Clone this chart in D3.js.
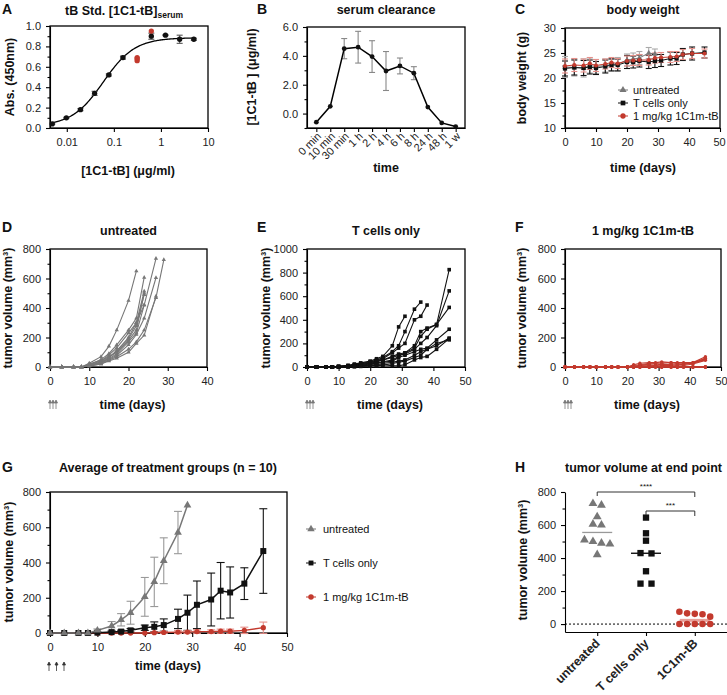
<!DOCTYPE html>
<html>
<head>
<meta charset="utf-8">
<script src="https://cdn.jsdelivr.net/npm/d3@7"></script>
<style>
body { margin: 0; background: #fff; }
text { font-family: "Liberation Sans", Arial, sans-serif; fill: #111; }
.tick text { font-size: 11px; fill: #222; }
.axis path, .axis line { stroke: #000; stroke-width: 1.1; }
.ttl { font-size: 12.5px; font-weight: bold; }
.lab { font-size: 12.5px; font-weight: bold; }
.let { font-size: 14px; font-weight: bold; }
.leg { font-size: 11px; }
</style>
</head>
<body>
<script>
//
// Data
//

// A - ELISA standard curve
var stdConc = [0.0049, 0.0098, 0.0195, 0.039, 0.078, 0.156, 0.625, 1.25, 2.5, 5];
var stdAbs  = [0.04, 0.10, 0.18, 0.34, 0.52, 0.69, 0.90, 0.91, 0.87, 0.87];
var stdErr  = [0.005, 0.005, 0.01, 0.02, 0.01, 0.015, 0.03, 0.005, 0.04, 0.01];
var serumConc = [0.3125, 0.3125, 0.3125, 0.625];
var serumAbs  = [0.66, 0.68, 0.69, 0.95];
var fitBottom = 0.02, fitTop = 0.885, fitEC50 = 0.06, fitHill = 1.3;

// B - serum clearance
var clrTimes = ["0 min", "10 min", "30 min", "1 h", "2 h", "4 h", "6 h", "8 h", "24 h", "48 h", "1 w"];
var clrMean  = [-0.6, 0.5, 4.5, 4.6, 3.95, 2.95, 3.3, 2.8, 0.45, -0.65, -0.9];
var clrErr   = [0, 0, 0.7, 1.1, 1.1, 1.35, 0.55, 0.45, 0, 0, 0];

// days of measurement (C - G)
var days = [0, 3, 6, 8, 10, 13, 15, 17, 20, 22, 24, 27, 29, 31, 34, 36, 38, 41, 45];

// C - body weight
var bwUntreated    = [22.2, 22.1, 22.0, 22.5, 22.3, 22.5, 22.7, 22.8, 23.6, 23.8, 24.0, 25.0, 24.8];
var bwUntreatedErr = [2.1, 1.7, 1.8, 1.5, 1.4, 1.3, 1.2, 1.3, 1.2, 1.2, 1.3, 1.1, 1.0];
var bwTcells    = [21.9, 22.1, 22.0, 22.2, 22.0, 22.3, 22.6, 22.6, 23.2, 23.2, 23.4, 23.2, 23.4, 23.5, 23.9, 23.9, 24.7, 24.9, 25.1];
var bwTcellsErr = [1.5, 1.5, 1.5, 1.4, 1.3, 1.3, 1.2, 1.2, 1.3, 1.2, 1.2, 1.3, 1.3, 1.2, 1.3, 1.2, 1.2, 1.3, 1.1];
var bwTb    = [22.4, 22.6, 22.5, 22.9, 22.5, 22.8, 23.1, 22.9, 23.4, 23.5, 23.6, 23.6, 24.0, 24.1, 24.2, 24.3, 24.7, 24.9, 24.9];
var bwTbErr = [1.4, 1.3, 1.3, 1.2, 1.2, 1.0, 1.0, 1.0, 1.0, 1.0, 1.1, 1.0, 1.0, 1.0, 1.1, 1.0, 1.0, 1.0, 0.9];

// D - untreated, single mice
var untreatedMice = [
  [0, 0, 0, 0, 25, 70, 140, 250, 450, 650],
  [0, 0, 0, 0, 10, 30, 60, 110, 200, 300, 420, 735],
  [0, 0, 0, 0, 5, 20, 45, 70, 120, 170, 250, 470, 727],
  [0, 0, 0, 0, 15, 50, 90, 150, 250, 330, 607],
  [0, 0, 0, 0, 10, 25, 50, 80, 150, 220, 330, 605],
  [0, 0, 0, 0, 15, 40, 80, 130, 230, 300, 513],
  [0, 0, 0, 0, 10, 35, 65, 110, 190, 280, 490],
  [0, 0, 0, 0, 20, 45, 70, 100, 180, 250, 500],
  [0, 0, 0, 0, 8, 20, 40, 60, 100, 160, 215, 480],
  [0, 0, 0, 0, 12, 30, 55, 90, 170, 230, 420]
];

// E - T cells only, single mice
var tcellMice = [
  [0, 0, 0, 0, 5, 15, 25, 35, 50, 70, 90, 180, 340, 430],
  [0, 0, 0, 0, 5, 10, 20, 30, 45, 60, 80, 130, 180, 300, 490, 550],
  [0, 0, 0, 0, 4, 10, 15, 25, 40, 55, 70, 120, 160, 200, 400, 430, 525],
  [0, 0, 0, 0, 3, 8, 12, 20, 30, 45, 60, 90, 110, 120, 180, 300, 330, 360, 825],
  [0, 0, 0, 0, 3, 8, 15, 20, 35, 50, 60, 80, 100, 110, 150, 200, 250, 350, 645],
  [0, 0, 0, 0, 2, 5, 10, 15, 25, 35, 45, 60, 90, 120, 160, 260, 320, 360, 505],
  [0, 0, 0, 0, 2, 5, 8, 12, 20, 30, 40, 50, 80, 100, 130, 150, 160, 230, 320],
  [0, 0, 0, 0, 1, 3, 5, 10, 15, 20, 30, 40, 50, 60, 100, 130, 150, 180, 245],
  [0, 0, 0, 0, 1, 3, 5, 8, 10, 15, 20, 10, 10, 20, 60, 80, 90, 150, 240],
  [0, 0, 0, 0, 1, 2, 3, 5, 8, 10, 15, 30, 40, 50, 80, 100, 150, 200, 230]
];

// F - 1 mg/kg 1C1m-tB, single mice
var tbMice = [
  [0, 0, 0, 0, 0, 0, 0, 0, 0, 15, 25, 30, 30, 35, 30, 30, 30, 30, 70],
  [0, 0, 0, 0, 0, 0, 0, 0, 0, 10, 15, 25, 25, 25, 30, 25, 25, 25, 60],
  [0, 0, 0, 0, 0, 0, 0, 0, 0, 5, 10, 20, 20, 15, 20, 20, 15, 30, 55],
  [0, 0, 0, 0, 0, 0, 0, 0, 0, 0, 10, 15, 10, 20, 15, 10, 20, 25, 50],
  [0, 0, 0, 0, 0, 0, 0, 0, 0, 0, 5, 10, 5, 10, 10, 15, 10, 20, 45],
  [0, 0, 0, 0, 0, 0, 0, 0, 0, 0, 0, 5, 10, 5, 5, 0, 5, 0, 0],
  [0, 0, 0, 0, 0, 0, 0, 0, 0, 0, 0, 0, 0, 0, 0, 0, 0, 0, 0],
  [0, 0, 0, 0, 0, 0, 0, 0, 0, 0, 0, 0, 5, 0, 0, 0, 0, 0, 0],
  [0, 0, 0, 0, 0, 0, 0, 0, 0, 0, 0, 0, 0, 0, 0, 0, 0, 0, 0],
  [0, 0, 0, 0, 0, 0, 0, 0, 0, 0, 0, 0, 0, 0, 0, 0, 0, 0, 0]
];

// G - group means
var gUntreated    = [0, 0, 0, 0, 15, 40, 75, 115, 205, 290, 410, 570, 725];
var gUntreatedErr = [0, 0, 0, 0, 8, 25, 35, 65, 110, 140, 130, 120, 0];
var gTcells    = [0, 0, 0, 0, 2, 5, 8, 15, 30, 35, 45, 80, 115, 160, 190, 240, 230, 280, 465];
var gTcellsErr = [0, 0, 0, 0, 2, 5, 8, 10, 15, 28, 35, 55, 100, 135, 150, 160, 145, 90, 240];
var gTb    = [0, 0, 0, 0, 0, 0, 0, 0, 0, 2, 3, 5, 5, 8, 8, 10, 10, 15, 30];
var gTbErr = [0, 0, 0, 0, 0, 0, 0, 0, 0, 3, 5, 8, 8, 10, 10, 12, 12, 18, 32];

// H - end point
var endGroups = ["untreated", "T cells only", "1C1m-tB"];
var endUntreated = [730, 720, 650, 605, 600, 510, 500, 490, 485, 420];
var endTcells    = [645, 550, 505, 430, 428, 320, 245, 245];
var endTb        = [75, 65, 62, 60, 45, 0, 0, 0, 0, 0];

//
// Colours
//
var cGray = "#777", cBlack = "#111", cRed = "#c33a2e";
var cGrayErr = "#aaa", cRedErr = "#e6908a";

var svg = d3.select("body").append("svg")
    .attr("width", 727)
    .attr("height", 695);

//
// helpers
//
function letter(t, x, y) {
    svg.append("text").attr("class", "let").attr("x", x).attr("y", y).text(t);
}
function title(t, x, y) {
    return svg.append("text").attr("class", "ttl").attr("x", x).attr("y", y)
        .attr("text-anchor", "middle").text(t);
}
function xlab(t, x, y) {
    return svg.append("text").attr("class", "lab").attr("x", x).attr("y", y)
        .attr("text-anchor", "middle").text(t);
}
function ylab(t, x, y) {
    return svg.append("text").attr("class", "lab")
        .attr("transform", "translate(" + x + "," + y + ") rotate(-90)")
        .attr("text-anchor", "middle").text(t);
}
function box(x, y) {
    var r = x.range(), d = y.range();
    svg.append("rect")
        .attr("x", r[0]).attr("y", d[1])
        .attr("width", r[1] - r[0]).attr("height", d[0] - d[1])
        .attr("fill", "none").attr("stroke", "#000").attr("stroke-width", 1.3);
}
function yAxis(y, x0, vals, fmt, minor) {
    svg.append("g").attr("class", "axis")
        .attr("transform", "translate(" + x0 + ",0)")
        .call(d3.axisLeft(y).tickValues(vals).tickFormat(fmt).tickSize(4).tickPadding(5).tickSizeOuter(0));
    if (minor) {
        var g = svg.append("g").attr("class", "axis")
            .attr("transform", "translate(" + x0 + ",0)")
            .call(d3.axisLeft(y).tickValues(minor).tickFormat("").tickSize(2.5).tickSizeOuter(0));
        g.select(".domain").remove();
    }
}
function xAxis(x, y0, vals, fmt) {
    return svg.append("g").attr("class", "axis")
        .attr("transform", "translate(0," + y0 + ")")
        .call(d3.axisBottom(x).tickValues(vals).tickFormat(fmt).tickSize(4).tickPadding(6).tickSizeOuter(0));
}
var symTypes = { tri: d3.symbolTriangle, sq: d3.symbolSquare, circ: d3.symbolCircle };
function marks(xs, ys, x, y, type, size, color) {
    svg.append("g").selectAll("path")
        .data(ys.map(function(v, i) { return [xs[i], v]; }))
        .enter().append("path")
        .attr("d", d3.symbol().type(symTypes[type]).size(size))
        .attr("transform", function(d) { return "translate(" + x(d[0]) + "," + y(d[1]) + ")"; })
        .attr("fill", color);
}
function trace(xs, ys, x, y, color, w) {
    var line = d3.line()
        .x(function(d, i) { return x(xs[i]); })
        .y(function(d) { return y(d); });
    svg.append("path").datum(ys)
        .attr("d", line).attr("fill", "none")
        .attr("stroke", color).attr("stroke-width", w || 1.2);
}
function errBars(xs, ys, es, x, y, color, cap) {
    var g = svg.append("g").attr("stroke", color).attr("stroke-width", 1.1);
    ys.forEach(function(v, i) {
        if (!es[i]) return;
        var cx = x(xs[i]), y1 = y(v - es[i]), y2 = y(v + es[i]);
        g.append("line").attr("x1", cx).attr("x2", cx).attr("y1", y1).attr("y2", y2);
        g.append("line").attr("x1", cx - cap).attr("x2", cx + cap).attr("y1", y1).attr("y2", y1);
        g.append("line").attr("x1", cx - cap).attr("x2", cx + cap).attr("y1", y2).attr("y2", y2);
    });
}
function arrows(x0, y0, n, gap, color) {
    var g = svg.append("g").attr("stroke", color).attr("fill", color).attr("stroke-width", 0.8);
    for (var i = 0; i < n; i++) {
        var ax = x0 + i * gap;
        g.append("line").attr("x1", ax).attr("x2", ax).attr("y1", y0).attr("y2", y0 - 8);
        g.append("path").attr("d", "M" + (ax - 1.5) + "," + (y0 - 6) + "L" + ax + "," + (y0 - 9) + "L" + (ax + 1.5) + "," + (y0 - 6) + "Z");
    }
}

//
// A: standard curve
//
(function() {
    var x = d3.scaleLog().domain([0.0044, 10]).range([50, 208]);
    var y = d3.scaleLinear().domain([0, 1]).range([128, 26]);
    letter("A", 2, 14);
    var t = title("tB Std. [1C1-tB]", 124, 15);
    t.append("tspan").attr("font-size", "8.5px").attr("dy", 3).text("serum");
    yAxis(y, 50, d3.range(0, 1.01, 0.2), d3.format(".1f"), d3.range(0.1, 1, 0.2));
    xAxis(x, 128, [0.01, 0.1, 1, 10], function(d) { return d < 0.1 ? "0.01" : d < 1 ? "0.1" : d3.format("d")(d); });
    box(x, y);
    // fitted curve
    var grid = d3.range(Math.log10(0.0049), Math.log10(5.2), 0.02).map(function(l) { return Math.pow(10, l); });
    var fit = grid.map(function(c) { return fitBottom + (fitTop - fitBottom) / (1 + Math.pow(fitEC50 / c, fitHill)); });
    trace(grid, fit, x, y, "#000", 1.3);
    errBars(stdConc, stdAbs, stdErr, x, y, "#555", 3);
    marks(stdConc, stdAbs, x, y, "circ", 22, cBlack);
    marks(serumConc, serumAbs, x, y, "circ", 22, cRed);
    ylab("Abs. (450nm)", 14, 77);
    xlab("[1C1-tB] (\u03bcg/ml)", 128, 175);
})();

//
// B: serum clearance
//
(function() {
    var x = d3.scalePoint().domain(clrTimes).range([307, 465]).padding(0.67);
    var y = d3.scaleLinear().domain([-1, 6]).range([128, 27]);
    letter("B", 257, 14);
    title("serum clearance", 386, 14);
    yAxis(y, 307, [0, 2, 4, 6], d3.format(".1f"), [-1, 1, 3, 5]);
    var ax = xAxis(x, 128, clrTimes, function(d) { return d; });
    ax.selectAll(".tick text")
        .attr("x", 0).attr("y", 0).attr("dy", 0)
        .attr("text-anchor", "end")
        .attr("transform", "translate(5,9) rotate(-45)");
    box({ range: function() { return [307, 465]; } }, y);
    errBars(clrTimes, clrMean, clrErr, x, y, "#888", 3);
    trace(clrTimes, clrMean, x, y, "#000", 1.5);
    marks(clrTimes, clrMean, x, y, "circ", 18, cBlack);
    ylab("[1C1-tB ] (\u03bcg/ml)", 256, 77);
    xlab("time", 386, 172);
})();

//
// C: body weight
//
(function() {
    var x = d3.scaleLinear().domain([0, 50]).range([565, 720]);
    var y = d3.scaleLinear().domain([10, 30]).range([128, 28]);
    letter("C", 515, 14);
    title("body weight", 643, 14);
    yAxis(y, 565, [10, 15, 20, 25, 30], d3.format("d"), d3.range(12.5, 30, 5));
    var ax = xAxis(x, 128, [0, 10, 20, 30, 40, 50], d3.format("d"));
    ax.selectAll(".tick text").filter(function(d) { return d === 50; }).attr("dx", -1);
    box(x, y);
    var dU = days.slice(0, bwUntreated.length);
    errBars(dU, bwUntreated, bwUntreatedErr, x, y, cGrayErr, 3);
    errBars(days, bwTcells, bwTcellsErr, x, y, cBlack, 3);
    errBars(days, bwTb, bwTbErr, x, y, cRedErr, 3);
    trace(dU, bwUntreated, x, y, cGray, 1);
    trace(days, bwTcells, x, y, cBlack, 1);
    trace(days, bwTb, x, y, cRed, 1);
    marks(dU, bwUntreated, x, y, "tri", 14, cGray);
    marks(days, bwTcells, x, y, "sq", 18, cBlack);
    marks(days, bwTb, x, y, "circ", 14, cRed);
    // legend
    var leg = [["untreated", cGray, "tri"], ["T cells only", cBlack, "sq"], ["1 mg/kg 1C1m-tB", cRed, "circ"]];
    leg.forEach(function(l, i) {
        var ly = 90 + i * 13;
        svg.append("line").attr("x1", 618).attr("x2", 628).attr("y1", ly).attr("y2", ly).attr("stroke", l[1]);
        svg.append("path").attr("d", d3.symbol().type(symTypes[l[2]]).size(22)())
            .attr("transform", "translate(623," + ly + ")").attr("fill", l[1]);
        svg.append("text").attr("class", "leg").attr("x", 633).attr("y", ly + 4).attr("fill", "#333").text(l[0]);
    });
    ylab("body weight (g)", 526, 78);
    xlab("time (days)", 643, 172);
})();

//
// D, E, F: single mice
//
function micePanel(mice, x0, x1, yMax, xMax, tag, ttl, color, type, size, letterX, ylabX) {
    var x = d3.scaleLinear().domain([0, xMax]).range([x0, x1]);
    var y = d3.scaleLinear().domain([0, yMax]).range([367, 249]);
    letter(tag, letterX, 232);
    title(ttl, (x0 + x1) / 2, 235);
    yAxis(y, x0, d3.range(0, yMax + 1, 200), d3.format("d"), d3.range(100, yMax, 200));
    xAxis(x, 367, d3.range(0, xMax + 1, 10), d3.format("d"));
    box(x, y);
    mice.forEach(function(m) {
        var ds = days.slice(0, m.length);
        trace(ds, m, x, y, color, 1.1);
        marks(ds, m, x, y, type, size, color);
    });
    ylab("tumor volume (mm\u00b3)", ylabX, 308);
    xlab("time (days)", (x0 + x1) / 2 + 4, 409);
    arrows(x0, 409, 3, 3, "#777");
}
micePanel(untreatedMice, 50, 207, 800, 40, "D", "untreated", cGray, "tri", 8, 2, 12);
micePanel(tcellMice, 307, 465, 1000, 50, "E", "T cells only", cBlack, "sq", 13, 257, 270);
micePanel(tbMice, 565, 721, 800, 50, "F", "1 mg/kg 1C1m-tB", cRed, "circ", 9, 515, 526);

//
// G: group averages
//
(function() {
    var x = d3.scaleLinear().domain([0, 50]).range([50, 287]);
    var y = d3.scaleLinear().domain([0, 800]).range([633, 492]);
    letter("G", 2, 472);
    title("Average of treatment groups (n = 10)", 168, 472);
    yAxis(y, 50, d3.range(0, 801, 200), d3.format("d"), d3.range(100, 800, 200));
    xAxis(x, 633, d3.range(0, 51, 10), d3.format("d"));
    box(x, y);
    var dU = days.slice(0, gUntreated.length);
    errBars(dU, gUntreated, gUntreatedErr, x, y, "#999", 4);
    errBars(days, gTcells, gTcellsErr, x, y, cBlack, 4);
    errBars(days, gTb, gTbErr, x, y, cRedErr, 4);
    trace(days, gTb, x, y, cRed, 1.3);
    trace(days, gTcells, x, y, cBlack, 1.5);
    trace(dU, gUntreated, x, y, cGray, 1.5);
    marks(days, gTb, x, y, "circ", 22, cRed);
    marks(days, gTcells, x, y, "sq", 36, cBlack);
    marks(dU, gUntreated, x, y, "tri", 26, cGray);
    var leg = [["untreated", cGray, "tri"], ["T cells only", cBlack, "sq"], ["1 mg/kg 1C1m-tB", cRed, "circ"]];
    leg.forEach(function(l, i) {
        var ly = [529, 563, 597][i];
        svg.append("line").attr("x1", 306).attr("x2", 316).attr("y1", ly).attr("y2", ly).attr("stroke", l[1]);
        svg.append("path").attr("d", d3.symbol().type(symTypes[l[2]]).size(24)())
            .attr("transform", "translate(311," + ly + ")").attr("fill", l[1]);
        svg.append("text").attr("class", "leg").attr("x", 323).attr("y", ly + 4).attr("fill", "#222").text(l[0]);
    });
    ylab("tumor volume (mm\u00b3)", 13, 562);
    xlab("time (days)", 168, 670);
    arrows(49, 671, 3, 7.5, "#333");
})();

//
// H: end point
//
(function() {
    var x = d3.scalePoint().domain(endGroups).range([565, 727]).padding(0.66);
    var y = d3.scaleLinear().domain([-48, 800]).range([632, 492]);
    letter("H", 515, 472);
    svg.append("text").attr("class", "ttl").attr("x", 565).attr("y", 472).text("tumor volume at end point");
    yAxis(y, 565, d3.range(0, 801, 200), d3.format("d"), d3.range(100, 800, 200));
    var ax = xAxis(x, 632, endGroups, function(d) { return d; });
    ax.selectAll(".tick text")
        .attr("x", 0).attr("y", 0).attr("dy", 0)
        .attr("text-anchor", "end")
        .attr("font-weight", "bold").style("font-size", "12.5px")
        .attr("transform", "translate(3,12) rotate(-45)");
    svg.append("line").attr("x1", 565).attr("x2", 727).attr("y1", y(0)).attr("y2", y(0))
        .attr("stroke", "#000").attr("stroke-dasharray", "2,2");

    // spread points of similar value side by side
    function swarm(vals, cat, thr, gap) {
        var sorted = vals.slice().sort(function(a, b) { return b - a; });
        var rows = [], out = [];
        sorted.forEach(function(v) {
            var r = rows[rows.length - 1];
            if (r && r[0] - v <= thr) r.push(v); else rows.push([v]);
        });
        rows.forEach(function(r) {
            r.forEach(function(v, i) {
                out.push([x(cat) + (i - (r.length - 1) / 2) * gap, y(v)]);
            });
        });
        return out;
    }
    var groups = [
        [endUntreated, "untreated", "tri", cGray, 34, 8.5, 40, "#999"],
        [endTcells, "T cells only", "sq", cBlack, 40, 11, 14, "#000"],
        [endTb, "1C1m-tB", "circ", cRed, 34, 7.7, 40, "#e8a09a"]
    ];
    groups.forEach(function(gr) {
        var med = d3.median(gr[0]);
        var cx = x(gr[1]);
        svg.append("line").attr("x1", cx - 15).attr("x2", cx + 15)
            .attr("y1", y(med)).attr("y2", y(med))
            .attr("stroke", gr[7]).attr("stroke-width", gr[1] === "1C1m-tB" ? 3 : 1.3);
        svg.append("g").selectAll("path")
            .data(swarm(gr[0], gr[1], gr[6], gr[5]))
            .enter().append("path")
            .attr("d", d3.symbol().type(symTypes[gr[2]]).size(gr[4]))
            .attr("transform", function(d) { return "translate(" + d[0] + "," + d[1] + ")"; })
            .attr("fill", gr[3]);
    });
    // significance brackets
    function bracket(a, b, yy, stars) {
        var xa = x(a), xb = x(b);
        svg.append("path")
            .attr("d", "M" + xa + "," + (yy + 4) + "V" + yy + "H" + xb + "V" + (yy + 5))
            .attr("fill", "none").attr("stroke", "#333").attr("stroke-width", 1);
        svg.append("text").attr("x", (xa + xb) / 2).attr("y", yy - 3)
            .attr("text-anchor", "middle").attr("font-size", "8px").text(stars);
    }
    bracket("untreated", "1C1m-tB", 492, "****");
    bracket("T cells only", "1C1m-tB", 511, "***");
    ylab("tumor volume (mm\u00b3)", 527, 560);
})();
</script>
</body>
</html>
